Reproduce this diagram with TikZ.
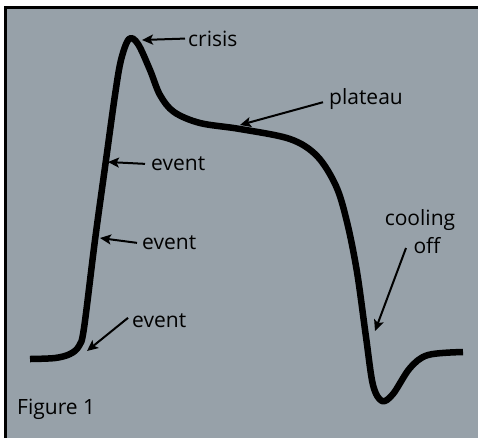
\documentclass[tikz,border=0pt]{standalone}
\usepackage{fontspec}
\setmainfont{Open Sans}
\usetikzlibrary{arrows.meta}
\definecolor{panel}{RGB}{151,161,169}
\tikzset{
  lbl/.style={inner sep=0pt, anchor=mid west, font=\fontsize{21}{25}\selectfont, text=black},
  pointer/.style={line width=2pt, -{Stealth[length=11pt,width=10pt,inset=2.5pt]}},
  curve/.style={line width=6.5pt, line cap=butt, line join=round}
}
\begin{document}
\begin{tikzpicture}[x=1pt,y=-1pt]
\useasboundingbox (0,0) rectangle (478,437);
\clip (0,0) rectangle (478,437);
\draw[line width=3pt, fill=panel] (5.5,7.5) rectangle (490,450);
% curve
\draw[curve] plot[smooth, tension=0.55] coordinates {
 (30,359) (55,358) (70,354) (79,346) (84,328) (95,240) (106,160) (115,95)
 (121,60) (129,39) (138,44) (150,70) (160,95) (174,112) (200,123) (240,129)
 (290,139) (317,156) (336,186) (347,222) (357,272) (366,337) (373,385) (382,401)
 (393,394) (410,368) (428,355) (463,352)};
% tips
\coordinate (tcrisis) at (142,40);
\coordinate (tplateau) at (240,125);
\coordinate (tev1) at (108,162);
\coordinate (tev2) at (100,238);
\coordinate (tev3) at (87,351);
\coordinate (tcool) at (375,331);
\coordinate (scool) at (406,248);
% labels
\node[lbl] (crisis) at (188,43.5) {crisis};
\node[lbl] (plateau) at (329,102) {plateau};
\node[lbl] (ev1) at (151,168) {event};
\node[lbl] (ev2) at (142,247) {event};
\node[lbl] (ev3) at (132,325) {event};
\node[lbl, anchor=mid] (cool) at (420,223) {cooling};
\node[lbl, anchor=mid] (off) at (427,251) {off};
\node[lbl] (fig) at (17,412) {Figure 1};
% pointers
\draw[pointer] ([xshift=-3pt]crisis.west) -- (tcrisis);
\draw[pointer] ([xshift=-6pt,yshift=-3pt]plateau.west) -- (tplateau);
\draw[pointer] ([xshift=-6pt]ev1.west) -- (tev1);
\draw[pointer] ([xshift=-5pt]ev2.west) -- (tev2);
\draw[pointer] ([xshift=-4pt,yshift=3pt]ev3.west) -- (tev3);
\draw[pointer] (scool) -- (tcool);
\end{tikzpicture}
\end{document}
